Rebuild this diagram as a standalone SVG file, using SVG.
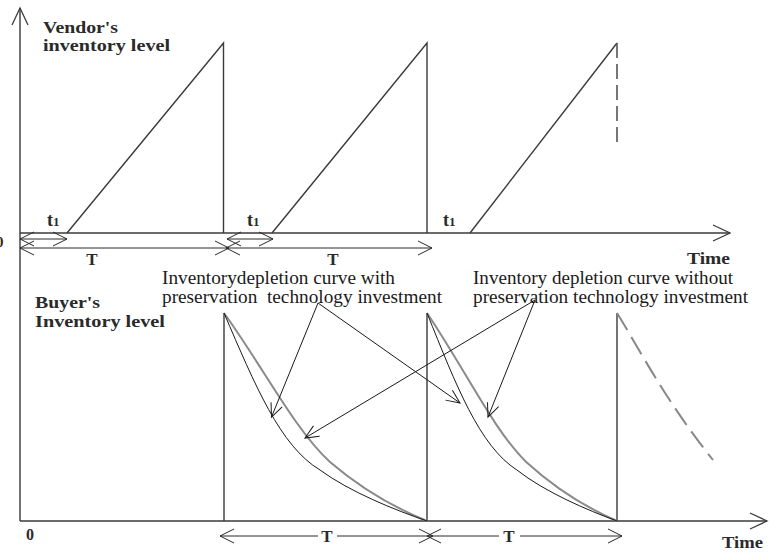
<svg xmlns="http://www.w3.org/2000/svg" width="771" height="553" viewBox="0 0 771 553">
<style>
.ln{stroke:#3a3a3a;stroke-width:1.4;fill:none}
.thin{stroke:#2a2a2a;stroke-width:1;fill:none}
.inner{stroke:#1a1a1a;stroke-width:1;fill:none}
.outer{stroke:#8a8a8a;stroke-width:2;fill:none}
.dash{stroke:#555;stroke-width:1.6;fill:none;stroke-dasharray:15 6}
.dashc{stroke:#888;stroke-width:2;fill:none;stroke-dasharray:20 8}
.b{font-family:"Liberation Serif","Times New Roman",serif;font-weight:bold;fill:#2a2a2a}
.r{font-family:"Liberation Serif","Times New Roman",serif;font-size:18px;fill:#1a1a1a}
</style>
<defs>
<marker id="ah" markerUnits="userSpaceOnUse" markerWidth="16" markerHeight="16" viewBox="0 0 16 16" refX="14.5" refY="8" orient="auto-start-reverse"><path d="M0.5,1 L14.5,8 L0.5,15" fill="none" stroke="#2a2a2a" stroke-width="1"/></marker>
<marker id="axh" markerUnits="userSpaceOnUse" markerWidth="20" markerHeight="20" viewBox="0 0 20 20" refX="18" refY="10" orient="auto"><path d="M1,2 L18,10 L1,18" fill="none" stroke="#3a3a3a" stroke-width="1.3"/></marker>
<marker id="ptr" markerUnits="userSpaceOnUse" markerWidth="16" markerHeight="14" viewBox="0 0 16 14" refX="14" refY="7" orient="auto"><path d="M0.5,1 L14,7 L0.5,13" fill="none" stroke="#1a1a1a" stroke-width="1"/></marker>
</defs>

<g id="axes">
<line class="ln" x1="20" y1="521" x2="20" y2="8" marker-end="url(#axh)"/>
<line class="ln" x1="20" y1="233" x2="730" y2="233" marker-end="url(#axh)"/>
<line class="ln" x1="20" y1="521" x2="767" y2="521" marker-end="url(#axh)"/>
</g>

<g id="vendor-inventory">
<polyline class="ln" points="67,233 223.5,43 223.5,233"/>
<polyline class="ln" points="272,233 427,43 427,233"/>
<line class="ln" x1="470" y1="233" x2="617" y2="43"/>
<line class="dash" x1="617" y1="43" x2="617" y2="145"/>
</g>

<g id="buyer-inventory">
<line class="ln" x1="224" y1="313" x2="224" y2="521"/>
<line class="ln" x1="427" y1="313" x2="427" y2="521"/>
<line class="ln" x1="617" y1="313" x2="617" y2="521"/>
<path class="outer" d="M224,313 C265,370 295,430 330,462 C365,492 400,510 427,521"/>
<path class="inner" d="M224,313 C255,385 280,446 320,470 C350,492 395,510 427,521"/>
<path class="outer" d="M427,313 C465.4,370 493.5,430 526.2,462 C559,492 591.7,510 617,521"/>
<path class="inner" d="M427,313 C456,385 479.4,446 516.9,470 C544.9,492 587,510 617,521"/>
<path class="dashc" d="M617,313 C640,350 665,400 713,460"/>
</g>

<g id="intervals">
<line class="thin" x1="20" y1="239" x2="67" y2="239" marker-start="url(#ah)" marker-end="url(#ah)"/>
<line class="thin" x1="227" y1="239" x2="273" y2="239" marker-start="url(#ah)" marker-end="url(#ah)"/>
<line class="thin" x1="20" y1="248" x2="229" y2="248" marker-start="url(#ah)" marker-end="url(#ah)"/>
<line class="thin" x1="226" y1="248" x2="432" y2="248" marker-start="url(#ah)" marker-end="url(#ah)"/>
<line class="thin" x1="220" y1="536" x2="318" y2="536" marker-start="url(#ah)"/>
<line class="thin" x1="337" y1="536" x2="433" y2="536" marker-end="url(#ah)"/>
<line class="thin" x1="427" y1="536" x2="499" y2="536" marker-start="url(#ah)"/>
<line class="thin" x1="520" y1="536" x2="622" y2="536" marker-end="url(#ah)"/>
</g>

<g id="connectors">
<line class="inner" x1="318" y1="303" x2="271.5" y2="417" marker-end="url(#ptr)"/>
<line class="inner" x1="318" y1="303" x2="460" y2="403" marker-end="url(#ptr)"/>
<line class="inner" x1="535" y1="300" x2="305" y2="438" marker-end="url(#ptr)"/>
<line class="inner" x1="535" y1="300" x2="488" y2="417" marker-end="url(#ptr)"/>
</g>

<g id="label-vendor">
<text class="b" font-size="17" x="43" y="33" textLength="75" lengthAdjust="spacingAndGlyphs">Vendor's</text>
<text class="b" font-size="17" x="43" y="51" textLength="127" lengthAdjust="spacingAndGlyphs">inventory level</text>
</g>
<g id="label-buyer">
<text class="b" font-size="17" x="35" y="308" textLength="65" lengthAdjust="spacingAndGlyphs">Buyer's</text>
<text class="b" font-size="17" x="35" y="327" textLength="130" lengthAdjust="spacingAndGlyphs">Inventory level</text>
</g>
<g id="label-t1">
<text class="b" font-size="18" x="47" y="226">t<tspan font-size="13">1</tspan></text>
<text class="b" font-size="18" x="247" y="226">t<tspan font-size="13">1</tspan></text>
<text class="b" font-size="18" x="443" y="226">t<tspan font-size="13">1</tspan></text>
</g>
<g id="label-T">
<text class="b" font-size="17" x="92" y="265" text-anchor="middle">T</text>
<text class="b" font-size="17" x="333" y="265" text-anchor="middle">T</text>
<text class="b" font-size="17" x="327" y="542" text-anchor="middle">T</text>
<text class="b" font-size="17" x="509" y="542" text-anchor="middle">T</text>
</g>
<g id="label-time">
<text class="b" font-size="17" x="687" y="264" textLength="43" lengthAdjust="spacingAndGlyphs">Time</text>
<text class="b" font-size="17" x="722" y="548" textLength="41" lengthAdjust="spacingAndGlyphs">Time</text>
</g>
<g id="label-origin">
<text class="b" font-size="15" x="-4" y="247">0</text>
<text class="b" font-size="16" x="26" y="540">0</text>
</g>
<g id="label-with">
<text class="r" x="162" y="284" textLength="233" lengthAdjust="spacingAndGlyphs">Inventorydepletion curve with</text>
<text class="r" x="162" y="303" textLength="280" lengthAdjust="spacingAndGlyphs">preservation&#160; technology investment</text>
</g>
<g id="label-without">
<text class="r" x="473" y="284" textLength="260" lengthAdjust="spacingAndGlyphs">Inventory depletion curve without</text>
<text class="r" x="473" y="303" textLength="275" lengthAdjust="spacingAndGlyphs">preservation technology investment</text>
</g>
</svg>
